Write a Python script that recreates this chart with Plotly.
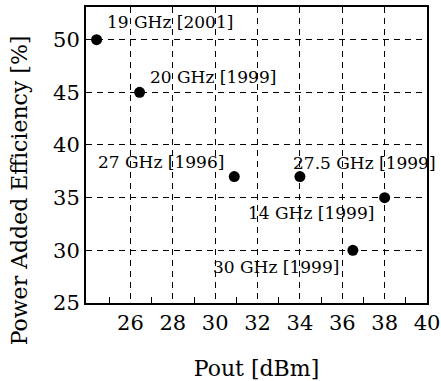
import plotly.graph_objects as go

pout = [24.4, 26.43, 30.9, 34.0, 38.0, 36.5]
pae = [50, 45, 37, 37, 35, 30]
labels = ["19 GHz [2001]", "20 GHz [1999]", "27 GHz [1996]", "27.5 GHz [1999]",
          "14 GHz [1999]", "30 GHz [1999]"]
x_ticks = [26, 28, 30, 32, 34, 36, 38, 40]
x_minor = [25, 27, 29, 31, 33, 35, 37, 39]
y_ticks = [25, 30, 35, 40, 45, 50]
x_title = "Pout [dBm]"
y_title = "Power Added Efficiency [%]"

# label placement (pixel offsets from each point): xanchor, xshift, yshift
label_place = [("left", 8, 18), ("left", 8, 15), ("right", -8, 15),
               ("left", -9, 14), ("right", -9, -15), ("right", -12, -17)]

FONT = "DejaVu Serif"

fig = go.Figure()
fig.add_trace(go.Scatter(x=pout, y=pae, mode="markers",
                         marker=dict(color="black", size=11),
                         showlegend=False, cliponaxis=False))

for xv, yv, t, (xa, xs, ys) in zip(pout, pae, labels, label_place):
    fig.add_annotation(x=xv, y=yv, text=t, showarrow=False, xanchor=xa,
                       yanchor="middle", xshift=xs, yshift=ys,
                       font=dict(family=FONT, size=17, color="black"))

# y-axis title (offset downward as in the reference)
fig.add_annotation(xref="paper", yref="paper", x=-0.194, y=0.38, text=y_title,
                   textangle=-90, showarrow=False, xanchor="center", yanchor="middle",
                   font=dict(family=FONT, size=22, color="black"))

axis_common = dict(showline=True, linecolor="black", linewidth=2, mirror=True,
                   showgrid=True, gridcolor="black", gridwidth=1,
                   griddash="6px,5px", zeroline=False, automargin=False,
                   tickfont=dict(family=FONT, size=21, color="black"))

fig.update_xaxes(range=[23.9, 40], tickvals=x_ticks, ticks="inside", ticklen=0,
                 minor=dict(tickvals=x_minor, ticks="inside",
                            ticklen=6, tickcolor="black", showgrid=False),
                 title=dict(text=x_title, font=dict(family=FONT, size=22, color="black"),
                            standoff=26),
                 **axis_common)
fig.update_yaxes(range=[25, 53.1], tickvals=y_ticks, ticks="inside", ticklen=5,
                 tickcolor="black", **axis_common)

fig.update_layout(width=441, height=381, margin=dict(l=86, r=14, t=7, b=78),
                  plot_bgcolor="white", paper_bgcolor="white")

fig.write_html("out.html", config={"displayModeBar": False},
               post_script="document.body.style.margin='0';")
